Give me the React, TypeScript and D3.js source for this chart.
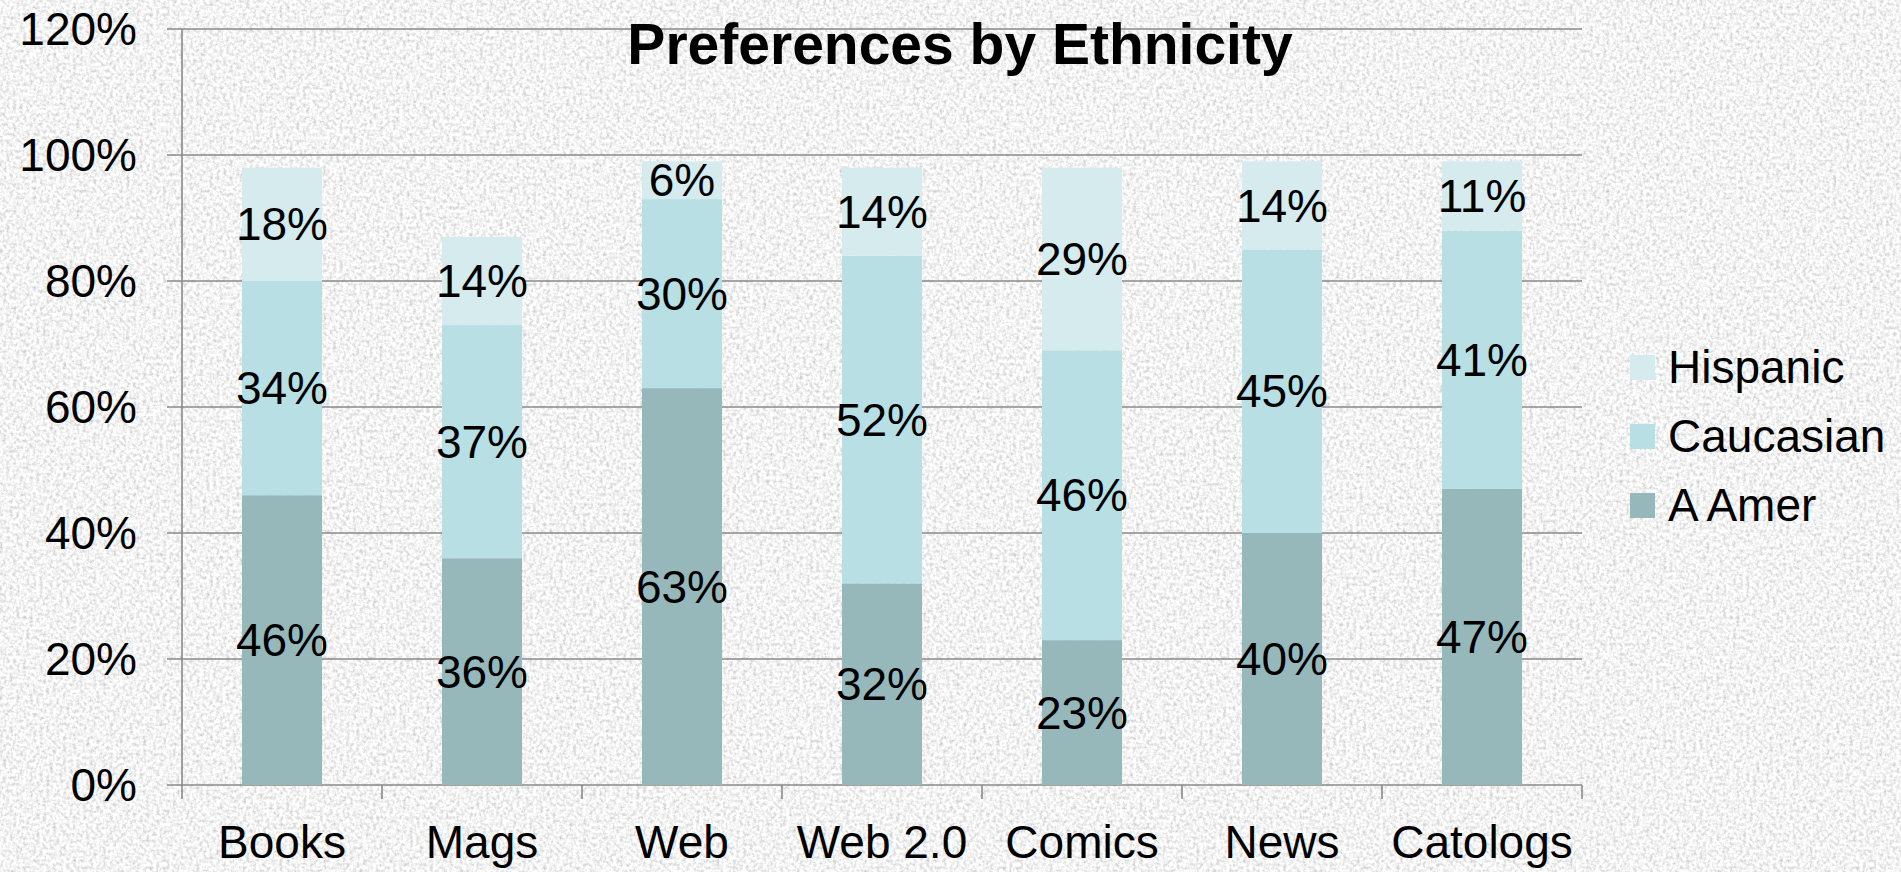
import React from "react";
import * as d3 from "d3";

const categories = ["Books", "Mags", "Web", "Web 2.0", "Comics", "News", "Catologs"];
const seriesKeys = ["A Amer", "Caucasian", "Hispanic"];
const aAmer = [46, 36, 63, 32, 23, 40, 47];
const caucasian = [34, 37, 30, 52, 46, 45, 41];
const hispanic = [18, 14, 6, 14, 29, 14, 11];
const yTicks = [0, 20, 40, 60, 80, 100, 120];
const legendOrder = ["Hispanic", "Caucasian", "A Amer"];

const colors: Record<string, string> = {
  "A Amer": "#97b8ba",
  Caucasian: "#b8dfe3",
  Hispanic: "#d6ebee",
};

const W = 1901;
const H = 872;
const FONT = "'Liberation Sans', Arial, sans-serif";

export default function App() {
  const rows = categories.map((c, i) => ({
    cat: c,
    "A Amer": aAmer[i],
    Caucasian: caucasian[i],
    Hispanic: hispanic[i],
  }));
  const stacked = d3.stack<any>().keys(seriesKeys)(rows);

  const x = d3
    .scaleBand<string>()
    .domain(categories)
    .range([182, 1582])
    .paddingInner(0.6)
    .paddingOuter(0.3);
  const y = d3.scaleLinear().domain([0, 120]).range([785, 29]);
  const step = x.step();
  const left = 182;
  const right = 1582;
  const boundaries = d3.range(categories.length + 1).map((i) => left + i * step);

  return (
    <svg
      width={W}
      height={H}
      style={{ position: "absolute", left: 0, top: 0, display: "block" }}
    >
      <defs>
        <filter id="granite" x="0" y="0" width="100%" height="100%">
          <feTurbulence type="fractalNoise" baseFrequency="0.3" numOctaves="3" seed="3" result="n" />
          <feColorMatrix
            in="n"
            type="matrix"
            values="0.8 0 0 0 0.5  0.8 0 0 0 0.5  0.8 0 0 0 0.5  0 0 0 0 1"
          />
        </filter>
      </defs>
      <rect x={0} y={0} width={W} height={H} fill="#e6e6e6" />
      <rect x={0} y={0} width={W} height={H} filter="url(#granite)" />

      {/* gridlines */}
      {yTicks.map((t) => (
        <line key={"g" + t} x1={167} x2={right} y1={y(t)} y2={y(t)} stroke="#8a8a8a" strokeWidth={1.6} />
      ))}
      {/* y axis line */}
      <line x1={left} x2={left} y1={y(120)} y2={y(0)} stroke="#8a8a8a" strokeWidth={1.6} />
      {/* x ticks */}
      {boundaries.map((bx, i) => (
        <line key={"xt" + i} x1={bx} x2={bx} y1={y(0)} y2={y(0) + 14} stroke="#8a8a8a" strokeWidth={1.6} />
      ))}

      {/* bars */}
      {stacked.map((s) =>
        s.map((d, i) => (
          <rect
            key={s.key + i}
            x={x(categories[i])}
            width={x.bandwidth()}
            y={y(d[1])}
            height={y(d[0]) - y(d[1])}
            fill={colors[s.key]}
          />
        ))
      )}

      {/* data labels */}
      {stacked.map((s) =>
        s.map((d, i) => (
          <text
            key={"l" + s.key + i}
            x={(x(categories[i]) as number) + x.bandwidth() / 2}
            y={y((d[0] + d[1]) / 2)}
            dy="0.35em"
            textAnchor="middle"
            fontFamily={FONT}
            fontSize={46}
            fill="#000"
          >
            {`${d[1] - d[0]}%`}
          </text>
        ))
      )}

      {/* y tick labels */}
      {yTicks.map((t) => (
        <text
          key={"yl" + t}
          x={137}
          y={y(t)}
          dy="0.35em"
          textAnchor="end"
          fontFamily={FONT}
          fontSize={46}
          fill="#000"
        >
          {`${t}%`}
        </text>
      ))}

      {/* x tick labels */}
      {categories.map((c) => (
        <text
          key={"xl" + c}
          x={(x(c) as number) + x.bandwidth() / 2}
          y={858}
          textAnchor="middle"
          fontFamily={FONT}
          fontSize={46}
          fill="#000"
        >
          {c}
        </text>
      ))}

      {/* title */}
      <text
        x={960}
        y={64}
        textAnchor="middle"
        fontFamily={FONT}
        fontWeight="bold"
        fontSize={57}
        fill="#000"
      >
        Preferences by Ethnicity
      </text>

      {/* legend */}
      {legendOrder.map((k, i) => (
        <g key={"lg" + k} transform={`translate(1630, ${355 + i * 69})`}>
          <rect x={0} y={0} width={25} height={25} fill={colors[k]} />
          <text x={38} y={28} fontFamily={FONT} fontSize={46} fill="#000">
            {k}
          </text>
        </g>
      ))}
    </svg>
  );
}
